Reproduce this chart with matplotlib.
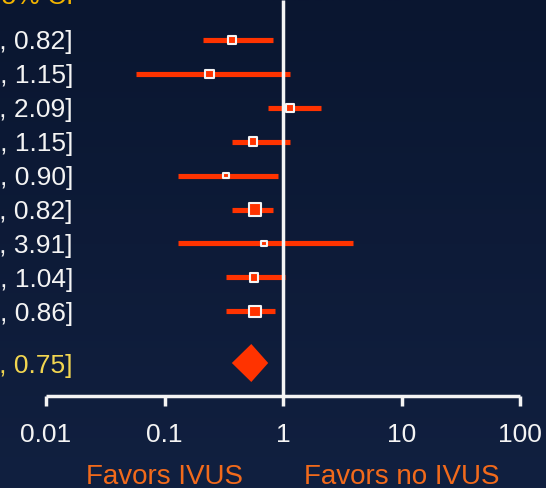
import numpy as np
import matplotlib
matplotlib.use("Agg")
from matplotlib import pyplot as plt
from matplotlib.colors import LinearSegmentedColormap
import matplotlib.transforms as mtransforms

plt.rcParams['font.family'] = ['Liberation Sans', 'DejaVu Sans']

# odds ratios per study, 95% CI
odds = [0.37, 0.24, 1.15, 0.56, 0.33, 0.58, 0.69, 0.57, 0.58]
ci_low = [0.21, 0.057, 0.75, 0.37, 0.13, 0.37, 0.13, 0.33, 0.33]
ci_high = [0.82, 1.15, 2.09, 1.15, 0.90, 0.82, 3.91, 1.04, 0.86]
weights = [10.4, 10.4, 10.4, 10.4, 5.5, 20.5, 5.5, 10.4, 16.3]

# pooled estimate
pooled = 0.54
pooled_low = 0.37
pooled_high = 0.75

ticks = [0.01, 0.1, 1, 10, 100]
favor_labels = ["Favors IVUS", "Favors no IVUS"]

W, H = 546, 488
bg_top = "#0a1630"
bg_bottom = "#112040"
bar_col = "#ff3300"
white = "#f4f4f4"

fig = plt.figure(figsize=(W / 100, H / 100), dpi=100)

# background gradient
bg = fig.add_axes([0, 0, 1, 1])
cmap = LinearSegmentedColormap.from_list("bg", [bg_top, bg_bottom])
bg.imshow(np.linspace(0, 1, 256).reshape(-1, 1), aspect="auto", cmap=cmap,
          extent=[0, 1, 0, 1])
bg.axis("off")

# main axes spans the whole figure, y measured in pixels from the top
ax = fig.add_axes([0, 0, 1, 1])
ax.patch.set_alpha(0)
ax.set_xscale("log")
decade = 118.5
x_one = 283.0
ax.set_xlim(10 ** (-x_one / decade), 10 ** ((W - x_one) / decade))
ax.set_ylim(H, 0)
ax.axis("off")

row_y = 40 + 33.9 * np.arange(len(odds))
pooled_y = 363
axis_y = 396

# confidence interval bars
ax.hlines(row_y, ci_low, ci_high, color=bar_col, lw=3.7, zorder=1)

# line of no effect
ax.vlines(1, 0, axis_y, color=white, lw=2.5, zorder=2)

# study squares, size by weight
side_px = 3.3 * np.sqrt(weights)
edge_pt = 1.5
sizes = (side_px * 0.72 - edge_pt) ** 2
ax.scatter(odds, row_y, s=sizes, marker="s", facecolor=bar_col,
           edgecolor=white, linewidths=edge_pt, zorder=3)

# pooled diamond
ax.fill([pooled_low, pooled, pooled_high, pooled],
        [pooled_y, pooled_y - 19, pooled_y, pooled_y + 19],
        color=bar_col, lw=0, zorder=3)

# x axis drawn by hand
ax.hlines(axis_y, ticks[0], ticks[-1], color=white, lw=2.5, zorder=2)
ax.vlines(ticks, axis_y, axis_y + 10, color=white, lw=2.5, zorder=2)
for t in ticks:
    ax.text(t, 442, "%g" % t, color=white, fontsize=19, ha="center", va="baseline")

ax.text(0.1, 484, favor_labels[0], color="#f26a1b", fontsize=20, ha="center", va="baseline")
ax.text(10, 484, favor_labels[1], color="#f26a1b", fontsize=20, ha="center", va="baseline")

# left text column
tr = mtransforms.blended_transform_factory(fig.transFigure, ax.transData)
lx = 73 / W
ax.text(lx, 4, "OR 95% CI", transform=tr, color="#f2b400", fontsize=19,
        ha="right", va="baseline")
for y, o, lo, hi in zip(row_y, odds, ci_low, ci_high):
    ax.text(lx, y, "%.2f [%.2f, %.2f]" % (o, lo, hi), transform=tr, color=white,
            fontsize=19, ha="right", va="center_baseline")
ax.text(lx, pooled_y, "%.2f [%.2f, %.2f]" % (pooled, pooled_low, pooled_high),
        transform=tr, color="#f2d650", fontsize=19, ha="right", va="center_baseline")

fig.savefig("out.png", dpi=100, facecolor=bg_top)
